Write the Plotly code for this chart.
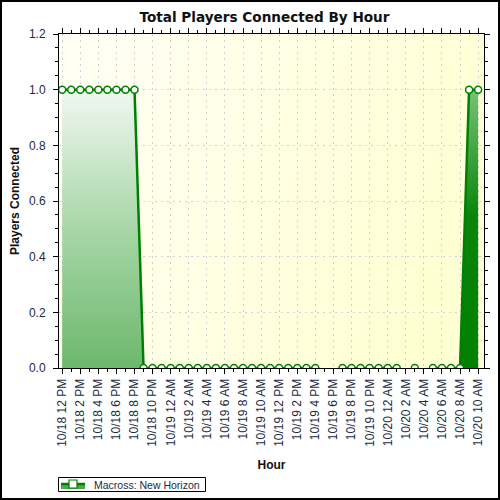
import base64
import plotly.graph_objects as go

# ---------------- data ----------------
tick_labels = [
    "10/18 12 PM", "10/18 2 PM", "10/18 4 PM", "10/18 6 PM", "10/18 8 PM", "10/18 10 PM",
    "10/19 12 AM", "10/19 2 AM", "10/19 4 AM", "10/19 6 AM", "10/19 8 AM", "10/19 10 AM",
    "10/19 12 PM", "10/19 2 PM", "10/19 4 PM", "10/19 6 PM", "10/19 8 PM", "10/19 10 PM",
    "10/20 12 AM", "10/20 2 AM", "10/20 4 AM", "10/20 6 AM", "10/20 8 AM", "10/20 10 AM",
]
# hourly samples starting 10/18 12 PM (None = no sample)
players = [
    1, 1, 1, 1, 1, 1, 1, 1, 1,
    0, 0, 0, 0, 0, 0, 0, 0, 0, 0, 0, 0, 0, 0, 0, 0, 0, 0, 0, 0,
    None, None,
    0, 0, 0, 0, 0, 0, 0,
    None, 0, None,
    0, 0, 0, 0,
    1, 1,
]
series_name = "Macross: New Horizon"

hours = list(range(len(players)))
tick_pos = hours[::2][:len(tick_labels)]

# ---------------- layout geometry ----------------
W, H = 500, 500
ML, MR, MT, MB = 59, 16, 34, 132
PW, PH = W - ML - MR, H - MT - MB


def px_x(p):
    return (p - ML) / PW


def px_y(p):
    return (H - MB - p) / PH


GREEN = "#008000"
TXT = "#1c2c44"
FONT = "Arial, Liberation Sans, sans-serif"

fig = go.Figure()

# left filled area
fig.add_trace(go.Scatter(
    x=hours[0:10], y=players[0:10], mode="lines", line=dict(width=0),
    fill="tozeroy",
    fillgradient=dict(type="vertical",
                      colorscale=[[0, "#6cb86c"], [0.5, "#a8d6a8"], [1, "#f0f8f0"]]),
    showlegend=False, hoverinfo="skip"))
# right filled area
fig.add_trace(go.Scatter(
    x=hours[44:47], y=players[44:47], mode="lines", line=dict(width=0),
    fill="tozeroy",
    fillgradient=dict(type="vertical",
                      colorscale=[[0, "#008000"], [0.55, "#0a850a"], [1, "#78c278"]]),
    showlegend=False, hoverinfo="skip"))
# line + markers
fig.add_trace(go.Scatter(
    x=hours, y=players, mode="lines+markers", name=series_name,
    connectgaps=False, showlegend=False,
    line=dict(color=GREEN, width=2.5),
    marker=dict(symbol="circle", size=7, color="white",
                line=dict(color=GREEN, width=1.5))))

svg = ("<svg xmlns='http://www.w3.org/2000/svg' width='100' height='100' preserveAspectRatio='none'>"
       "<defs><linearGradient id='g' x1='0' y1='0' x2='1' y2='0.35'>"
       "<stop offset='0' stop-color='#fffff6'/><stop offset='1' stop-color='#ffffd4'/>"
       "</linearGradient></defs><rect width='100' height='100' fill='url(#g)'/></svg>")
src = "data:image/svg+xml;base64," + base64.b64encode(svg.encode()).decode()

axis_common = dict(
    showline=True, linecolor="black", linewidth=1, mirror="allticks",
    ticks="outside", tickcolor="black", ticklen=5, tickwidth=1,
    showgrid=True, gridcolor="#d0d0d6", gridwidth=1, griddash="2px,4px",
    zeroline=False, automargin=False,
    tickfont=dict(family=FONT, size=12, color=TXT),
)


def rect(x0, y0, x1, y1, **kw):
    return dict(type="rect", xref="paper", yref="paper",
                x0=px_x(x0), x1=px_x(x1), y0=px_y(y0), y1=px_y(y1), **kw)


shapes = [
    # outer frame
    rect(1, 1, 499, 499, line=dict(color="black", width=2), fillcolor="rgba(0,0,0,0)"),
    # legend box
    rect(58.5, 477.5, 205.5, 491.5, line=dict(color="black", width=1), fillcolor="white"),
    # legend symbol: filled band, line, marker
    rect(61, 484, 85, 489, line=dict(width=0), fillcolor="#4ea64e"),
    dict(type="line", xref="paper", yref="paper", x0=px_x(61), x1=px_x(85),
         y0=px_y(484), y1=px_y(484), line=dict(color=GREEN, width=2.5)),
    rect(69, 480, 77, 488, line=dict(color=GREEN, width=1.2), fillcolor="white"),
]

fig.update_layout(
    width=W, height=H,
    margin=dict(l=ML, r=MR, t=MT, b=MB, autoexpand=False),
    paper_bgcolor="white",
    plot_bgcolor="rgba(0,0,0,0)",
    font=dict(family=FONT, color=TXT),
    showlegend=False,
    title=dict(text="<b>Total Players Connected By Hour</b>",
               font=dict(family="DejaVu Sans, Verdana, sans-serif", size=13.6, color="#111111"),
               x=264.5 / W, xanchor="center", y=1 - 17 / H, yanchor="middle"),
    xaxis=dict(
        range=[-0.35, 46.65],
        tickmode="array", tickvals=tick_pos, ticktext=tick_labels,
        tickangle=-90,
        minor=dict(dtick=1, tick0=0, ticklen=3, tickcolor="black", showgrid=False),
        title=dict(text="<b>Hour</b>", font=dict(family=FONT, size=12, color="#111111"),
                   standoff=14),
        **axis_common),
    yaxis=dict(
        range=[0, 1.2], dtick=0.2, tick0=0, tickformat=".1f",
        minor=dict(dtick=0.05, ticklen=3, tickcolor="black", showgrid=False),
        ticklabelstandoff=5,
        title=dict(text="<b>Players Connected</b>",
                   font=dict(family=FONT, size=12, color="#111111"), standoff=6),
        **axis_common),
    annotations=[dict(text=series_name, xref="paper", yref="paper",
                      x=px_x(92), y=px_y(484.5), xanchor="left", yanchor="middle",
                      showarrow=False, font=dict(family=FONT, size=10.5, color=TXT))],
    images=[dict(source=src, xref="paper", yref="paper", x=0, y=1,
                 sizex=1, sizey=1, xanchor="left", yanchor="top",
                 sizing="stretch", layer="below")],
    shapes=shapes,
)

fig.write_html("out.html", config={"displayModeBar": False},
               post_script="document.body.style.margin='0';document.body.style.overflow='hidden';")
